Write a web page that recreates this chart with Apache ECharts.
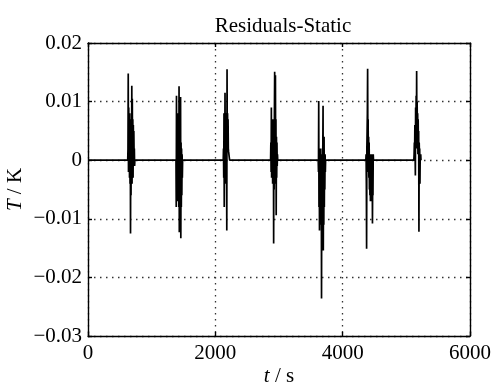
<!DOCTYPE html>
<html>
<head>
<meta charset="utf-8">
<script src="https://cdn.jsdelivr.net/npm/echarts@6/dist/echarts.min.js"></script>
<style>
html,body{margin:0;padding:0;background:#fff;}
#chart{width:493px;height:385px;}
</style>
</head>
<body>
<div id="chart"></div>
<script>
// ---- Data ----
var titleText = 'Residuals-Static';
var xTickLabels = ['0', '2000', '4000', '6000'];
var yTickLabels = ['0.02', '0.01', '0', '\u22120.01', '\u22120.02', '\u22120.03'];
var sampleStep = 4; // seconds between samples inside a burst
var seriesStart = 0;
var seriesEnd = 5240;

var burstStarts = [624, 1382, 2124, 2868, 3616, 4364, 5118];

var burst1 = [0, 0.002, 0.0148, -0.002, 0.009, -0.001, 0.007, -0.003, 0.008, -0.004, 0.006, -0.0125, 0.005, -0.006, 0.007, -0.003, 0.0127, -0.004, 0.0105, -0.002, 0.007, -0.003, 0.006, -0.001, 0.005, 0.001, 0.002, -0.001, 0];
var burst2 = [0, -0.008, 0.011, -0.006, 0.005, -0.007, 0.006, -0.006, 0.008, -0.007, 0.004, -0.008, 0.0126, -0.0123, 0.006, -0.007, 0.009, -0.009, 0.0108, -0.0133, 0.003, -0.008, 0.002, -0.006, 0.001, -0.003, 0];
var burst3 = [0, 0.002, -0.003, 0.008, -0.008, 0.006, -0.001, 0.0115, 0.001, 0.008, 0.002, -0.004, 0.007, 0.001, -0.012, 0.0155, 0.002, 0.008, 0.002, 0.007, 0.002, 0.0015, 0.0015, 0.0014, 0.0014, 0];
var burst4 = [0, 0.003, -0.002, 0.009, -0.003, 0.006, -0.002, 0.007, -0.004, 0.006, -0.003, 0.007, -0.0142, 0.005, -0.005, 0.008, 0.0151, -0.004, 0.006, 0.0145, -0.003, 0.007, -0.0094, 0.004, -0.003, 0.003, -0.001, 0.001, 0, 0];
var burst5 = [0, -0.002, 0.0101, -0.008, 0.002, -0.012, 0.001, -0.008, 0.002, -0.011, 0.002, -0.009, 0.001, -0.0236, -0.002, -0.012, 0.001, -0.010, 0.002, 0.0093, -0.0154, 0.001, -0.011, 0.004, -0.008, 0.001, -0.005, 0.001, -0.002, 0, 0];
var burst6 = [0, 0.001, -0.004, -0.0151, 0.002, 0.005, 0.008, 0.0156, 0.003, 0.007, -0.002, 0.004, -0.003, 0.003, -0.005, 0.001, -0.006, 0.001, -0.007, 0, -0.006, 0.001, -0.007, -0.001, -0.005, 0.001, -0.0108, -0.002, -0.006, 0.001, 0, 0];
var burst7 = [0, 0.001, 0.003, 0.001, 0.006, 0.001, -0.0026, 0.009, 0.002, 0.011, 0.003, 0.0152, 0.004, 0.010, 0.002, 0.008, 0.001, 0.007, 0.001, 0.005, -0.0122, 0.003, 0.001, 0.002, -0.004, 0.001, 0, 0.001, 0, 0];

var bursts = [burst1, burst2, burst3, burst4, burst5, burst6, burst7];

// ---- Build series data ----
var data = [[seriesStart, 0]];
bursts.forEach(function (b, k) {
  b.forEach(function (v, i) {
    data.push([burstStarts[k] + i * sampleStep, v]);
  });
});
data.push([seriesEnd, 0]);

var fontFam = '"Liberation Serif", "Times New Roman", serif';
var gridLine = { show: true, lineStyle: { color: '#333', width: 1.3, type: [1.5, 4.5] } };
var axisLineStyle = { show: true, onZero: false, lineStyle: { color: '#000', width: 1.4 } };
var tickStyle = { show: true, inside: true, length: 4, lineStyle: { color: '#000', width: 1.4 } };

function yFmt(v) {
  var idx = Math.round((0.02 - v) / 0.01);
  return yTickLabels[idx] !== undefined ? yTickLabels[idx] : '';
}
function xFmt(v) {
  var idx = Math.round(v / 2000);
  return xTickLabels[idx] !== undefined ? xTickLabels[idx] : '';
}

var chart = echarts.init(document.getElementById('chart'), null, { renderer: 'canvas' });
chart.setOption({
  animation: false,
  backgroundColor: '#fff',
  title: {
    text: titleText,
    left: 278, top: 11,
    textAlign: 'center',
    textStyle: { fontFamily: fontFam, fontSize: 21, fontWeight: 'normal', color: '#000' }
  },
  grid: { left: 88, right: 23, top: 43, bottom: 49, containLabel: false, outerBoundsMode: 'none' },
  xAxis: [{
    type: 'value', min: 0, max: 6000, interval: 2000,
    position: 'bottom',
    axisLine: axisLineStyle, axisTick: tickStyle,
    splitLine: gridLine,
    axisLabel: { formatter: xFmt, fontFamily: fontFam, fontSize: 21, color: '#000', margin: 7 },
    name: '{i|t} / s',
    nameLocation: 'middle', nameGap: 30, nameMoveOverlap: false,
    nameTextStyle: {
      fontFamily: fontFam, fontSize: 21, color: '#000',
      rich: { i: { fontFamily: fontFam, fontSize: 21, fontStyle: 'italic', color: '#000' } }
    }
  }, {
    type: 'value', min: 0, max: 6000, interval: 2000,
    position: 'top',
    axisLine: axisLineStyle, axisTick: tickStyle,
    splitLine: { show: false }, axisLabel: { show: false }
  }],
  yAxis: [{
    type: 'value', min: -0.03, max: 0.02, interval: 0.01,
    position: 'left',
    axisLine: axisLineStyle, axisTick: tickStyle,
    splitLine: gridLine,
    axisLabel: { formatter: yFmt, fontFamily: fontFam, fontSize: 21, color: '#000', margin: 6 },
    name: '{i|T} / K',
    nameLocation: 'middle', nameGap: 62, nameRotate: 90, nameMoveOverlap: false,
    nameTextStyle: {
      fontFamily: fontFam, fontSize: 21, color: '#000',
      rich: { i: { fontFamily: fontFam, fontSize: 21, fontStyle: 'italic', color: '#000' } }
    }
  }, {
    type: 'value', min: -0.03, max: 0.02, interval: 0.01,
    position: 'right',
    axisLine: axisLineStyle, axisTick: tickStyle,
    splitLine: { show: false }, axisLabel: { show: false }
  }],
  series: [{
    type: 'line',
    data: data,
    xAxisIndex: 0, yAxisIndex: 0,
    showSymbol: false, symbol: 'none',
    lineStyle: { color: '#000', width: 1.7 },
    z: 5
  }]
});
</script>
</body>
</html>
